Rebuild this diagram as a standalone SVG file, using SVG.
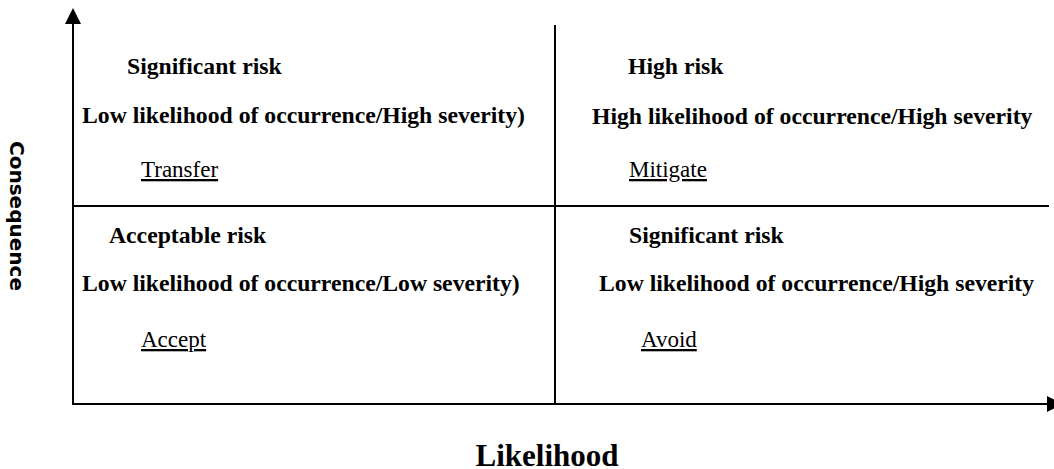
<svg xmlns="http://www.w3.org/2000/svg" width="1054" height="469" viewBox="0 0 1054 469">
<style>
.ax{stroke:#000;stroke-width:2;fill:none}
.h{font-family:"Liberation Serif","Times New Roman",serif;font-weight:bold;font-size:23.7px;fill:#000}
.a{font-family:"Liberation Serif","Times New Roman",serif;font-size:23px;fill:#000;text-decoration:underline}
.axl{font-family:"Liberation Serif","Times New Roman",serif;font-weight:bold;font-size:31px;fill:#000}
.cl{font-family:"DejaVu Sans",sans-serif;font-weight:bold;font-size:20px;fill:#000}
</style>
<defs>
<marker id="arr" viewBox="0 0 16 16" refX="0" refY="8" markerWidth="16" markerHeight="16" markerUnits="userSpaceOnUse" orient="auto">
<path d="M0,0 L16,8 L0,16 Z" fill="#000"/>
</marker>
</defs>
<rect width="1054" height="469" fill="#fff"/>
<g id="connectors">
<line class="ax" x1="73" y1="405" x2="73" y2="24" marker-end="url(#arr)"/>
<line class="ax" x1="72" y1="404" x2="1047" y2="404" marker-end="url(#arr)"/>
<line class="ax" x1="555" y1="25" x2="555" y2="404"/>
<line class="ax" x1="73" y1="206" x2="1049" y2="206"/>
</g>
<g id="q-top-left">
<text class="h" x="127" y="74">Significant risk</text>
<text class="h" x="82" y="123">Low likelihood of occurrence/High severity)</text>
<text class="a" x="141" y="177">Transfer</text>
</g>
<g id="q-top-right">
<text class="h" x="628" y="74">High risk</text>
<text class="h" x="592" y="124">High likelihood of occurrence/High severity</text>
<text class="a" x="629" y="177">Mitigate</text>
</g>
<g id="q-bottom-left">
<text class="h" x="109" y="243">Acceptable risk</text>
<text class="h" x="82" y="291">Low likelihood of occurrence/Low severity)</text>
<text class="a" x="141" y="347">Accept</text>
</g>
<g id="q-bottom-right">
<text class="h" x="629" y="243">Significant risk</text>
<text class="h" x="599" y="291">Low likelihood of occurrence/High severity</text>
<text class="a" x="641" y="347">Avoid</text>
</g>
<g id="axis-labels">
<text class="axl" x="547" y="466" text-anchor="middle">Likelihood</text>
<text class="cl" transform="translate(10,216) rotate(90)" text-anchor="middle">Consequence</text>
</g>
</svg>
